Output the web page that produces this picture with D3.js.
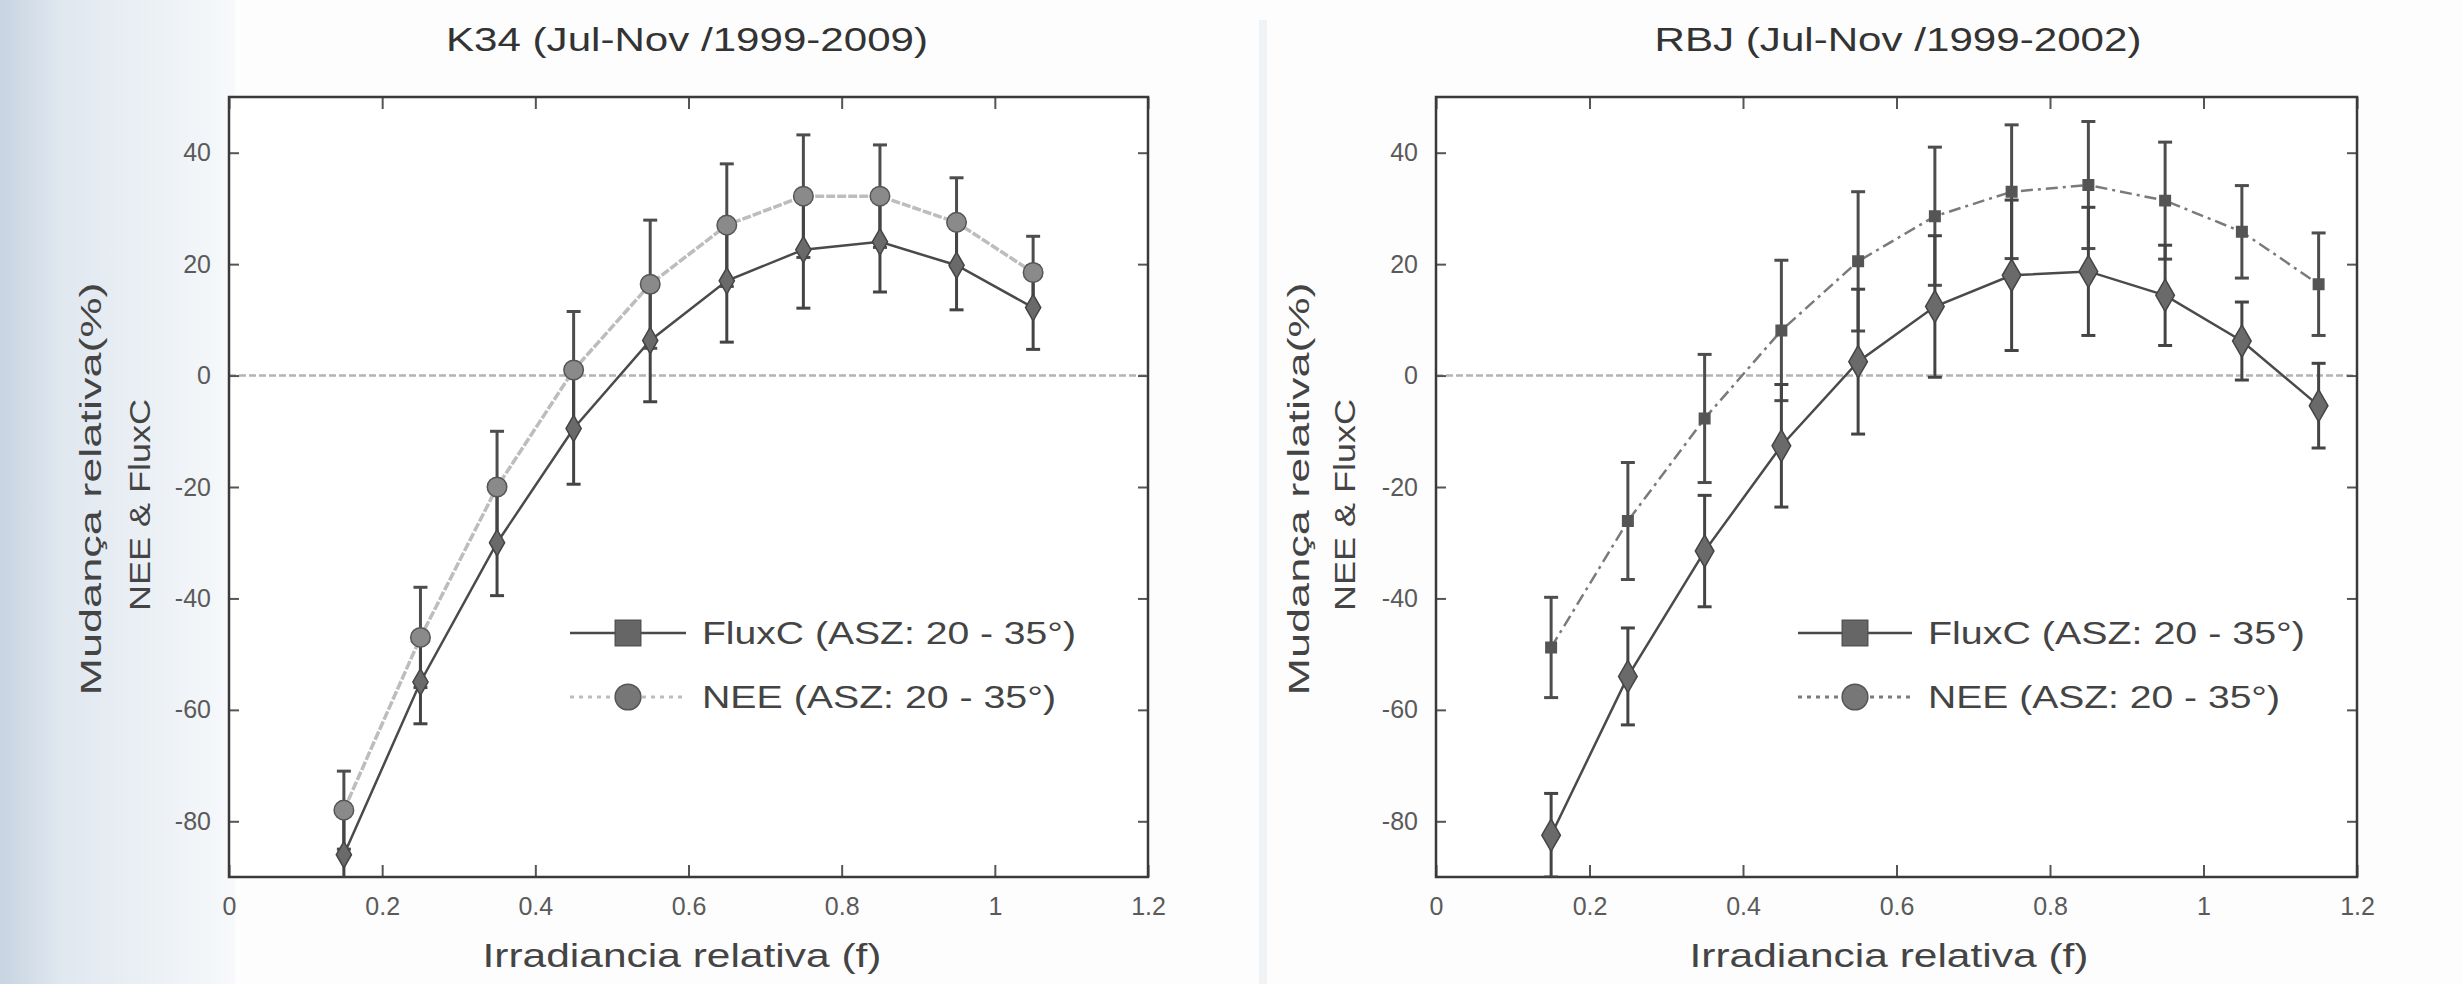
<!DOCTYPE html>
<html>
<head>
<meta charset="utf-8">
<script src="https://cdn.jsdelivr.net/npm/d3@7"></script>
<style>
  html, body { margin: 0; padding: 0; background: #ffffff; }
  svg { display: block; font-family: "Liberation Sans", Arial, sans-serif; }
</style>
</head>
<body>
<svg id="chart" width="2463" height="984"></svg>
<script>
// ---------------- DATA ----------------
const xTicks = [0, 0.2, 0.4, 0.6, 0.8, 1, 1.2];
const yTicks = [-80, -60, -40, -20, 0, 20, 40];

// K34 panel
const k34Title = "K34 (Jul-Nov /1999-2009)";
const k34X = [0.15, 0.25, 0.35, 0.45, 0.55, 0.65, 0.75, 0.85, 0.95, 1.05];
const k34FluxC = [-86, -55, -30, -9.5, 6.3, 17, 22.6, 24, 19.8, 12.2];
const k34FluxCErr = [7, 7.5, 9.5, 10, 11, 11, 10.5, 9, 8, 7.5];
const k34NEE = [-78, -47, -20, 1, 16.4, 27, 32.2, 32.2, 27.5, 18.5];
const k34NEEErr = [7, 9, 10, 10.5, 11.5, 11, 11, 9.2, 8, 6.5];

// RBJ panel
const rbjTitle = "RBJ (Jul-Nov /1999-2002)";
const rbjX = [0.15, 0.25, 0.35, 0.45, 0.55, 0.65, 0.75, 0.85, 0.95, 1.05, 1.15];
const rbjFluxC = [-82.5, -54, -31.5, -12.6, 2.5, 12.4, 18, 18.7, 14.4, 6.2, -5.4];
const rbjFluxCErr = [7.5, 8.7, 10, 11, 13, 12.7, 13.5, 11.5, 9, 7, 7.6];
const rbjNEE = [-48.8, -26.1, -7.7, 8.1, 20.5, 28.6, 33, 34.2, 31.4, 25.8, 16.4];
const rbjNEEErr = [9, 10.5, 11.5, 12.6, 12.5, 12.4, 12, 11.4, 10.5, 8.3, 9.2];

const xLabel = "Irradiancia relativa (f)";
const yLabel1 = "Mudança relativa(%)";
const yLabel2 = "NEE & FluxC";
const legFluxC = "FluxC (ASZ: 20 - 35°)";
const legNEE = "NEE (ASZ: 20 - 35°)";

// ---------------- DRAW ----------------
const svg = d3.select("#chart");
const defs = svg.append("defs");
const grad = defs.append("linearGradient").attr("id", "bg").attr("x1", "0").attr("x2", "1").attr("y1", "0").attr("y2", "0");
grad.append("stop").attr("offset", "0").attr("stop-color", "#c7d4e1");
grad.append("stop").attr("offset", "0.25").attr("stop-color", "#dfe7ef");
grad.append("stop").attr("offset", "1").attr("stop-color", "#f7f9fb");

svg.append("rect").attr("x", 0).attr("y", 0).attr("width", 2463).attr("height", 984).attr("fill", "#fdfdfd");
svg.append("rect").attr("x", 0).attr("y", 0).attr("width", 235).attr("height", 984).attr("fill", "url(#bg)");
svg.append("rect").attr("x", 1259).attr("y", 20).attr("width", 8).attr("height", 964).attr("fill", "#f0f3f6");

const tickFmt = d => String(d);

function panel(cfg) {
  const g = svg.append("g");
  const x = d3.scaleLinear().domain([0, 1.2]).range([cfg.left, cfg.right]);
  const y = d3.scaleLinear().domain([-90, 50]).range([877, 97]);

  g.append("rect").attr("x", cfg.left).attr("y", y(50)).attr("width", cfg.right - cfg.left)
    .attr("height", y(-90) - y(50)).attr("fill", "#ffffff");

  // zero line
  g.append("line").attr("x1", x(0)).attr("x2", x(1.2)).attr("y1", y(0)).attr("y2", y(0))
    .attr("stroke", "#b4b4b4").attr("stroke-width", 2.5).attr("stroke-dasharray", "7,3");

  // axes
  const axB = g.append("g").attr("transform", `translate(0,${y(-90)})`)
    .call(d3.axisBottom(x).tickValues(xTicks).tickSizeInner(-12).tickSizeOuter(0).tickPadding(20).tickFormat(tickFmt));
  const axT = g.append("g").attr("transform", `translate(0,${y(50)})`)
    .call(d3.axisTop(x).tickValues(xTicks).tickSizeInner(-12).tickSizeOuter(0).tickFormat(""));
  const axL = g.append("g").attr("transform", `translate(${x(0)},0)`)
    .call(d3.axisLeft(y).tickValues(yTicks).tickSizeInner(-10).tickSizeOuter(0).tickPadding(18).tickFormat(tickFmt));
  const axR = g.append("g").attr("transform", `translate(${x(1.2)},0)`)
    .call(d3.axisRight(y).tickValues(yTicks).tickSizeInner(-10).tickSizeOuter(0).tickFormat(""));
  [axB, axT, axL, axR].forEach(a => {
    a.select(".domain").remove();
    a.selectAll(".tick line").attr("stroke", "#555").attr("stroke-width", 2);
    a.selectAll(".tick text").attr("fill", "#5a5a5a").attr("font-size", 25)
      .attr("font-family", "'Liberation Sans Narrow', 'Liberation Sans', Arial, sans-serif");
  });
  axB.selectAll(".tick text").attr("dy", "0.71em");
  g.append("rect").attr("x", x(0)).attr("y", y(50)).attr("width", x(1.2) - x(0)).attr("height", y(-90) - y(50))
    .attr("fill", "none").attr("stroke", "#3a3a3a").attr("stroke-width", 2.5);

  const clip = "clip" + cfg.id;
  defs.append("clipPath").attr("id", clip).append("rect")
    .attr("x", x(0)).attr("y", y(50)).attr("width", x(1.2) - x(0)).attr("height", y(-90) - y(50));
  const pg = g.append("g").attr("clip-path", `url(#${clip})`);

  const neeData = cfg.xs.map((v, i) => ({ x: v, y: cfg.nee[i], e: cfg.neeErr[i] }));
  const fxData = cfg.xs.map((v, i) => ({ x: v, y: cfg.fx[i], e: cfg.fxErr[i] }));
  const line = d3.line().x(d => x(d.x)).y(d => y(d.y));

  pg.append("path").datum(neeData).attr("d", line).attr("fill", "none")
    .attr("stroke", cfg.neeColor).attr("stroke-width", cfg.neeWidth).attr("stroke-dasharray", cfg.neeDash);
  pg.append("path").datum(fxData).attr("d", line).attr("fill", "none")
    .attr("stroke", "#4a4a4a").attr("stroke-width", 2.5);

  function errBars(data, color) {
    const eb = pg.append("g").selectAll("g").data(data).join("g");
    eb.append("line").attr("x1", d => x(d.x)).attr("x2", d => x(d.x))
      .attr("y1", d => y(d.y + d.e)).attr("y2", d => y(d.y - d.e))
      .attr("stroke", color).attr("stroke-width", 3);
    [1, -1].forEach(s => {
      eb.append("line").attr("x1", d => x(d.x) - 7).attr("x2", d => x(d.x) + 7)
        .attr("y1", d => y(d.y + s * d.e)).attr("y2", d => y(d.y + s * d.e))
        .attr("stroke", color).attr("stroke-width", 3);
    });
  }
  errBars(neeData, "#4d4d4d");
  errBars(fxData, "#444444");

  pg.append("g").selectAll("path").data(neeData).join("path")
    .attr("transform", d => `translate(${x(d.x)},${y(d.y)})`)
    .attr("d", d3.symbol().type(cfg.neeSym).size(cfg.neeSize))
    .attr("fill", cfg.neeFill).attr("stroke", "#555").attr("stroke-width", 1.5);
  pg.append("g").selectAll("path").data(fxData).join("path")
    .attr("transform", d => `translate(${x(d.x)},${y(d.y)})`)
    .attr("d", d3.symbol().type(cfg.fxSym).size(cfg.fxSize))
    .attr("fill", "#6a6a6a").attr("stroke", "#444").attr("stroke-width", 1.5);

  g.append("text").attr("x", cfg.titleX).attr("y", 51).attr("text-anchor", "middle")
    .attr("font-size", 33).attr("fill", "#333").attr("textLength", cfg.titleLen)
    .attr("lengthAdjust", "spacingAndGlyphs").text(cfg.title);
  g.append("text").attr("x", cfg.xLabX).attr("y", 967).attr("text-anchor", "middle")
    .attr("font-size", 34).attr("fill", "#444").attr("textLength", 399)
    .attr("lengthAdjust", "spacingAndGlyphs").text(xLabel);
  g.append("text").attr("transform", `translate(${cfg.yLab1X},489) rotate(-90)`).attr("text-anchor", "middle")
    .attr("font-size", 29).attr("fill", "#444").attr("textLength", 413)
    .attr("lengthAdjust", "spacingAndGlyphs").text(yLabel1);
  g.append("text").attr("transform", `translate(${cfg.yLab2X},505) rotate(-90)`).attr("text-anchor", "middle")
    .attr("font-size", 29).attr("fill", "#444").attr("textLength", 212)
    .attr("lengthAdjust", "spacingAndGlyphs").text(yLabel2);

  const lg = g.append("g");
  const rows = [
    { y: 633, text: legFluxC, len: cfg.legLen1, color: "#4a4a4a", dash: null, w: 2.5, sym: d3.symbolSquare, size: 650, fill: "#666" },
    { y: 697, text: legNEE, len: cfg.legLen2, color: cfg.neeColor, dash: "4,5", w: 3, sym: d3.symbolCircle, size: 520, fill: "#777" }
  ];
  rows.forEach(r => {
    lg.append("line").attr("x1", cfg.legX0).attr("x2", cfg.legX1).attr("y1", r.y).attr("y2", r.y)
      .attr("stroke", r.color).attr("stroke-width", r.w).attr("stroke-dasharray", r.dash);
    lg.append("path").attr("transform", `translate(${(cfg.legX0 + cfg.legX1) / 2},${r.y})`)
      .attr("d", d3.symbol().type(r.sym).size(r.size)).attr("fill", r.fill).attr("stroke", "#555").attr("stroke-width", 1.5);
    lg.append("text").attr("x", cfg.legX1 + 16).attr("y", r.y + 11).attr("font-size", 31).attr("fill", "#444")
      .attr("textLength", r.len).attr("lengthAdjust", "spacingAndGlyphs").text(r.text);
  });
}

panel({
  id: "k34", left: 229, right: 1148, xs: k34X, fx: k34FluxC, fxErr: k34FluxCErr, nee: k34NEE, neeErr: k34NEEErr,
  neeColor: "#bdbdbd", neeWidth: 3.5, neeDash: "9,2", neeSym: d3.symbolCircle, neeSize: 300, neeFill: "#8a8a8a",
  fxSym: d3.symbolDiamond, fxSize: 200,
  title: k34Title, titleX: 687, titleLen: 482, xLabX: 682, yLab1X: 101, yLab2X: 150,
  legX0: 570, legX1: 686, legLen1: 374, legLen2: 354
});
panel({
  id: "rbj", left: 1436, right: 2357, xs: rbjX, fx: rbjFluxC, fxErr: rbjFluxCErr, nee: rbjNEE, neeErr: rbjNEEErr,
  neeColor: "#7a7a7a", neeWidth: 2.5, neeDash: "12,5,3,5", neeSym: d3.symbolSquare, neeSize: 110, neeFill: "#555",
  fxSym: d3.symbolDiamond, fxSize: 300,
  title: rbjTitle, titleX: 1898, titleLen: 487, xLabX: 1889, yLab1X: 1309, yLab2X: 1355,
  legX0: 1798, legX1: 1912, legLen1: 377, legLen2: 352
});
</script>
</body>
</html>
